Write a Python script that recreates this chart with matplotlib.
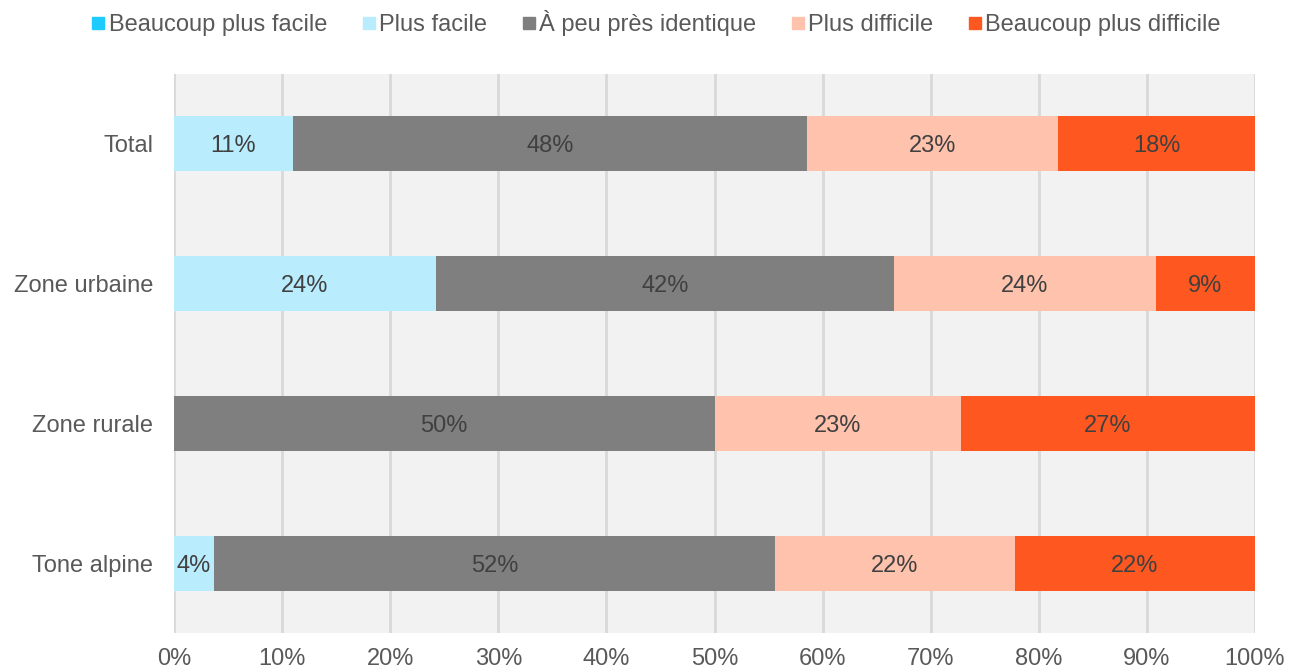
import matplotlib
matplotlib.use("Agg")
import matplotlib.pyplot as plt
from matplotlib.lines import Line2D
import numpy as np

plt.rcParams['font.family'] = ['Liberation Sans', 'DejaVu Sans']

categories = ["Total", "Zone urbaine", "Zone rurale", "Tone alpine"]
series_names = ["Beaucoup plus facile", "Plus facile", "À peu près identique",
                "Plus difficile", "Beaucoup plus difficile"]
beaucoup_facile = [0.0, 0.0, 0.0, 0.0]
plus_facile = [11.0, 24.2, 0.0, 3.7]
identique = [47.6, 42.4, 50.0, 51.9]
plus_difficile = [23.2, 24.2, 22.8, 22.2]
beaucoup_difficile = [18.2, 9.2, 27.2, 22.2]
xticks = [0, 10, 20, 30, 40, 50, 60, 70, 80, 90, 100]

colors = ["#1ECBFF", "#B9ECFD", "#7F7F7F", "#FFC2AD", "#FF5720"]
series = [beaucoup_facile, plus_facile, identique, plus_difficile, beaucoup_difficile]

fig = plt.figure(figsize=(12.89, 6.70), dpi=100)
ax = fig.add_axes([174 / 1289, 1 - 633 / 670, (1255 - 174) / 1289, (633 - 74) / 670])
ax.set_facecolor("#F2F2F2")

y = np.arange(len(categories))
left = np.zeros(len(categories))
for name, vals, col in zip(series_names, series, colors):
    vals = np.array(vals)
    ax.barh(y, vals, left=left, height=0.395, color=col, label=name, zorder=3)
    for yi, l, v in zip(y, left, vals):
        if v > 0:
            ax.text(l + v / 2, yi, f"{round(v)}%", ha="center", va="center_baseline",
                    fontsize=17, color="#404040", zorder=4)
    left = left + vals

ax.set_xlim(0, 100)
ax.set_ylim(3.5, -0.5)
ax.set_xticks(xticks)
ax.set_xticklabels([f"{t}%" for t in xticks])
ax.set_yticks(y)
ax.set_yticklabels(categories)
ax.tick_params(axis="both", length=0, labelsize=17, colors="#595959")
ax.tick_params(axis="y", pad=15)
ax.tick_params(axis="x", pad=11)
ax.xaxis.grid(True, color="#D9D9D9", linewidth=2, zorder=0)
ax.set_axisbelow(True)
for s in ax.spines.values():
    s.set_visible(False)

handles = [Line2D([], [], marker="s", linestyle="none", markersize=9,
                  markerfacecolor=c, markeredgecolor=c) for c in colors]
fig.legend(handles, series_names, loc="center", bbox_to_anchor=(0.509, 0.966),
           ncol=5, frameon=False, fontsize=17, handlelength=0.6,
           handletextpad=0.15, columnspacing=1.45, labelcolor="#595959")

fig.savefig("out.png", dpi=100)
